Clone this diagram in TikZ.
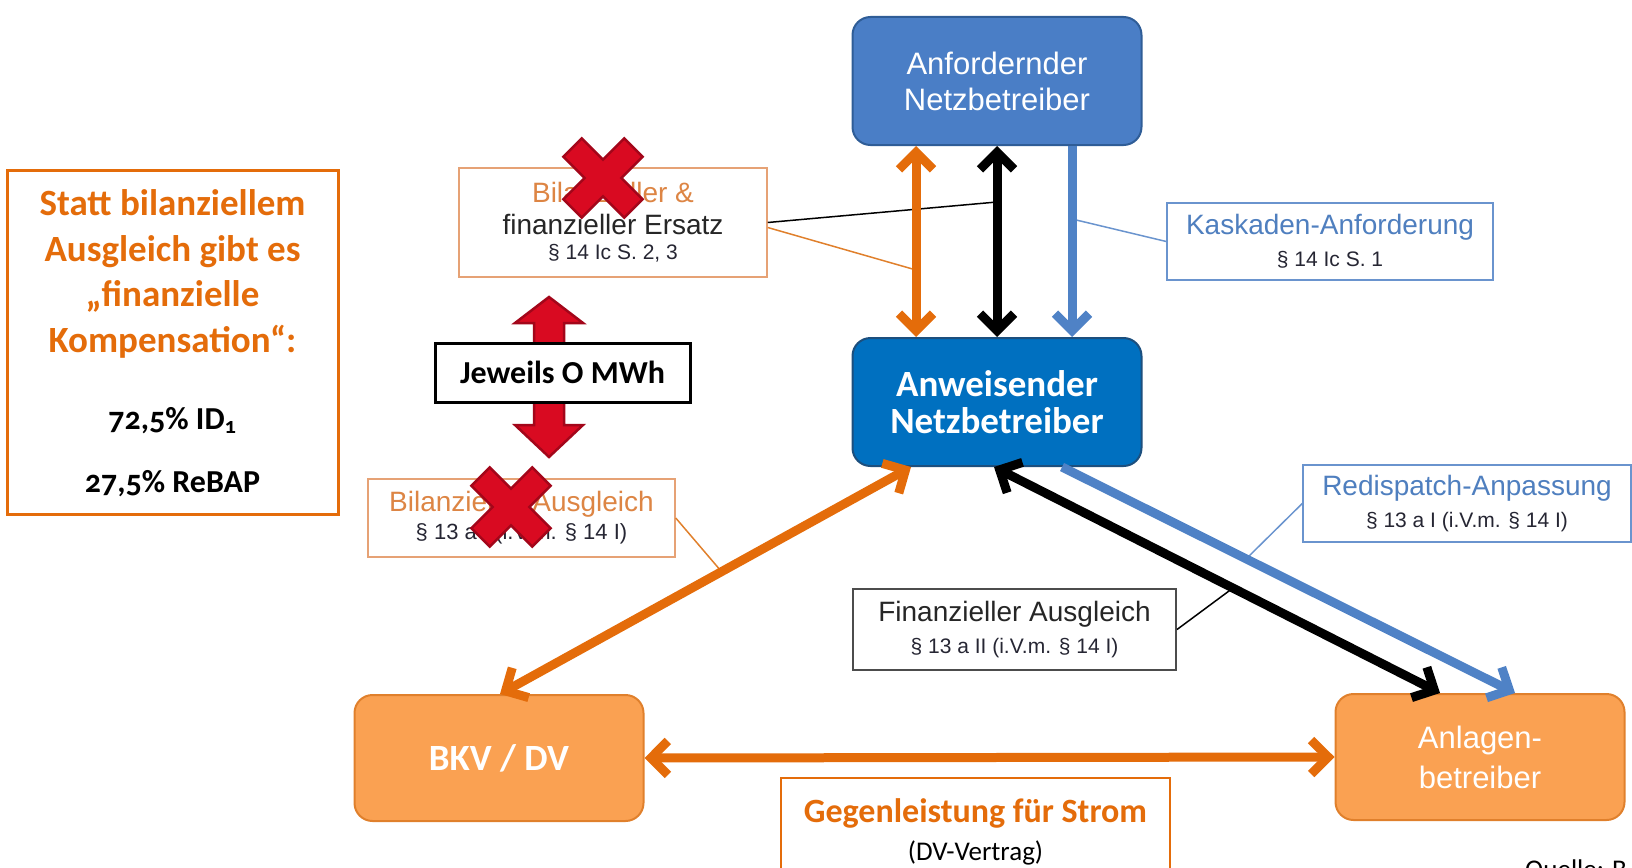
\documentclass[tikz,border=0pt]{standalone}
\usepackage{fontspec}
\setmainfont{Liberation Sans}
\newfontfamily\calibfont{Carlito}[Numbers=OldStyle]
\usetikzlibrary{arrows.meta}

\definecolor{oraDark}{HTML}{E46C0A}
\definecolor{oraFill}{HTML}{FAA152}
\definecolor{oraLine}{HTML}{E0802C}
\definecolor{oraThin}{HTML}{E6A275}
\definecolor{oraText}{HTML}{DD8544}
\definecolor{blueTop}{HTML}{4A7EC6}
\definecolor{blueTopLine}{HTML}{2F5D97}
\definecolor{blueMid}{HTML}{0070C0}
\definecolor{blueMidLine}{HTML}{1C4F7E}
\definecolor{blueArrow}{HTML}{4F82C6}
\definecolor{blueThin}{HTML}{6A94CE}
\definecolor{blueText}{HTML}{4F7FBF}
\definecolor{crossRed}{HTML}{D90A21}
\definecolor{crossEdge}{HTML}{A3061A}
\definecolor{paraText}{HTML}{262633}

\begin{document}
\begin{tikzpicture}[
        x=1pt, y=-1pt,
        >={Straight Barb[length=17pt,width=34pt]},
        netbox/.style={
            rectangle, rounded corners=18pt, line width=2pt, inner sep=0pt, align=center,
            minimum width=289pt, minimum height=128pt
        },
        requester/.style={
            netbox, fill=blueTop, draw=blueTopLine, text=white, font=\fontsize{31}{36}\selectfont
        },
        instructor/.style={
            netbox, fill=blueMid, draw=blueMidLine, text=white, font=\calibfont\bfseries\fontsize{37}{37}\selectfont
        },
        party/.style={
            netbox, minimum height=126pt, fill=oraFill, draw=oraLine, text=white
        },
        lawbox/.style={
            rectangle, line width=1.5pt, fill=white, inner sep=0pt, align=center, font=\fontsize{28}{32}\selectfont
        },
        notebox/.style={
            rectangle, line width=3pt, draw=oraDark, fill=white, inner sep=0pt, align=center
        },
        flow/.style={line width=9pt},
        leader/.style={line width=1.5pt},
        crossmark/.pic={
            \filldraw[fill=crossRed, draw=crossEdge, line width=2.5pt, line join=miter]
                (13,13) -- (13,43) -- (-13,43) -- (-13,13) -- (-43,13) -- (-43,-13) -- (-13,-13)
                -- (-13,-43) -- (13,-43) -- (13,-13) -- (43,-13) -- (43,13) -- cycle;
        },
    ]
        \useasboundingbox (0,0) rectangle (1632,867);

        \node (anford) [requester] at (997,81) {Anfordernder\\Netzbetreiber};
        \node (anweis) [instructor] at (997,402) {Anweisender\\Netzbetreiber};
        \node (bkv) [party, font=\calibfont\bfseries\fontsize{37}{40}\selectfont] at (499,758) {BKV / DV};
        \node (anlagen) [party, font=\fontsize{31}{40}\selectfont] at (1480,757) {Anlagen-\\betreiber};

        \node (kask) [lawbox, draw=blueThin, minimum width=326pt, minimum height=77pt] at (1330,241.5)
            {{\color{blueText}Kaskaden-Anforderung}\\{\color{paraText}\fontsize{21}{32}\selectfont § 14 Ic S. 1}};
        \node (ersatz) [lawbox, draw=oraThin, minimum width=308pt, minimum height=109pt] at (613,222.5)
            {{\color{oraText}Bilanzieller \&}\\{\color{black!85}finanzieller Ersatz}\\[-7pt]{\color{paraText}\fontsize{21}{32}\selectfont § 14 Ic S. 2, 3}};
        \node (ausgl) [lawbox, draw=oraThin, minimum width=307pt, minimum height=78pt] at (521.5,518)
            {{\color{oraText}Bilanzieller Ausgleich}\\[-4pt]{\color{paraText}\fontsize{22}{32}\selectfont § 13 a I (i.V.m. § 14 I)}};
        \node (redis) [lawbox, draw=blueThin, minimum width=328pt, minimum height=77pt] at (1467,503.5)
            {{\color{blueText}Redispatch-Anpassung}\\{\color{paraText}\fontsize{21}{32}\selectfont § 13 a I (i.V.m. § 14 I)}};
        \node (fin) [lawbox, draw=black!70, line width=2pt, minimum width=323pt, minimum height=81pt] at (1014.5,629.5)
            {{\color{black!85}Finanzieller Ausgleich}\\{\color{paraText}\fontsize{21}{32}\selectfont § 13 a II (i.V.m. § 14 I)}};

        \node (note) [notebox, minimum width=331pt, minimum height=344pt] at (172.5,342) {};
        \node (noteHead) [align=center, text=oraDark, font=\calibfont\bfseries\fontsize{37}{45.5}\selectfont] at (172.5,274)
            {Statt bilanziellem\\Ausgleich gibt es\\„finanzielle\\Kompensation“:};
        \node (noteIdOne) [font=\calibfont\bfseries\fontsize{32}{36}\selectfont] at (172.5,421) {72,5\% ID\textsubscript{1}};
        \node (noteReBap) [font=\calibfont\bfseries\fontsize{32}{36}\selectfont] at (172.5,484) {27,5\% ReBAP};

        \node (gegen) [notebox, line width=2.5pt, minimum width=389pt, minimum height=107pt,
            font=\calibfont\fontsize{27}{38}\selectfont] at (975.5,831.5)
            {{\color{oraDark}\bfseries\fontsize{34}{38}\selectfont Gegenleistung für Strom}\\(DV-Vertrag)};
        \node (source) [anchor=north west, inner sep=0pt, font=\calibfont\fontsize{27}{30}\selectfont] at (1525,860) {Quelle: B};

        \coordinate (kaskPt) at (1072,219);
        \coordinate (ersatzBlkPt) at (997,202);
        \coordinate (ersatzOraPt) at (916,270);
        \coordinate (ausglPt) at (721,571);
        \coordinate (redisPt) at (1246,559);
        \coordinate (finPt) at (1233,588);

        \draw[leader, blueThin] (kask.west) -- (kaskPt);
        \draw[leader, black] (ersatz.east) -- (ersatzBlkPt);
        \draw[leader, oraLine] ([yshift=-5pt]ersatz.east) -- (ersatzOraPt);
        \draw[leader, oraLine] (ausgl.east) -- (ausglPt);
        \draw[leader, blueThin] (redis.west) -- (redisPt);
        \draw[leader, black] (fin.east) -- (finPt);

        \path ([xshift=-81pt]anford.south) edge[flow, oraDark, <->] ([xshift=-81pt]anweis.north);
        \path (anford.south) edge[flow, black, <->] (anweis.north);
        \path ([xshift=75pt]anford.south) edge[flow, blueArrow, ->] ([xshift=75pt]anweis.north);
        \path ([xshift=-86pt]anweis.south) edge[flow, oraDark, <->] ([xshift=1pt]bkv.north);
        \path ([xshift=-3pt]anweis.south) edge[flow, black, <->] ([xshift=-40pt]anlagen.north);
        \path ([xshift=65pt]anweis.south) edge[flow, blueArrow, ->] ([xshift=35pt]anlagen.north);
        \path (bkv.east) edge[flow, oraDark, <->] (anlagen.west);

        \pic[rotate=45] at (603,178) {crossmark};
        \pic[rotate=45] at (511,507) {crossmark};

        \filldraw[fill=crossRed, draw=crossEdge, line width=2.5pt]
            (549,297) -- (583,323) -- (564,323) -- (564,425) -- (583,425) -- (549,457)
            -- (515,425) -- (534,425) -- (534,323) -- (515,323) -- cycle;
        \node (jeweils) [rectangle, draw=black, line width=3pt, fill=white, minimum width=255pt, minimum height=59pt,
            font=\calibfont\bfseries\fontsize{32}{36}\selectfont] at (562.5,372.5) {Jeweils O MWh};

    \end{tikzpicture}
\end{document}
